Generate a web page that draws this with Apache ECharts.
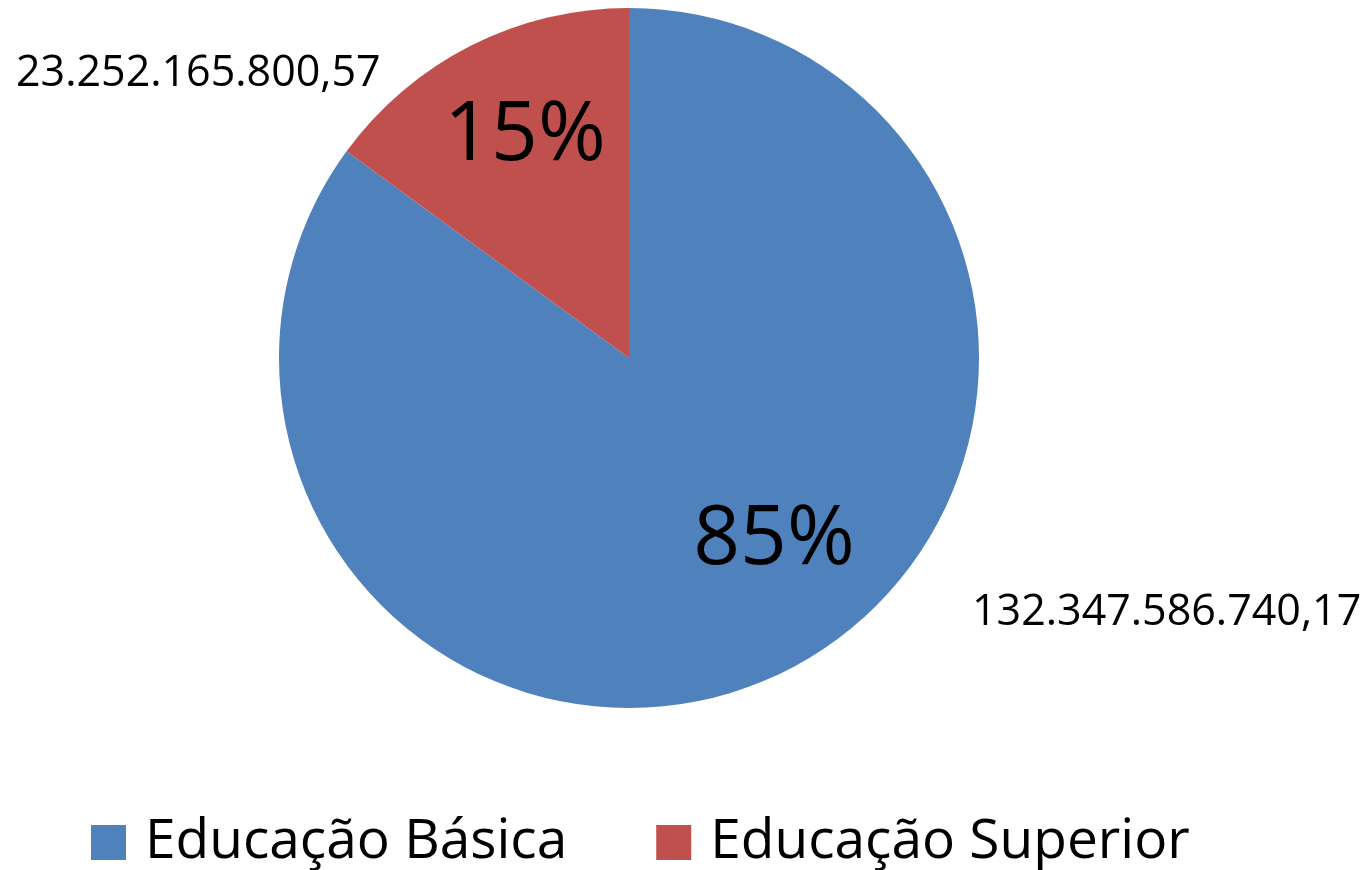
<!DOCTYPE html>
<html>
<head>
<meta charset="utf-8">
<script src="https://cdn.jsdelivr.net/npm/echarts@6/dist/echarts.min.js"></script>
<style>
html, body { margin: 0; padding: 0; background: #fff; }
#pieChart { width: 1364px; height: 870px; }
</style>
</head>
<body>
<div id="pieChart"></div>
<script>
// dados do gráfico
var categorias = ['Educação Básica', 'Educação Superior'];
var valores = [132347586740.17, 23252165800.57];
var cores = ['#4F81BD', '#C0504D'];

// posição dos rótulos (percentual e valor) por fatia
var posPercentual = [[774, 541], [525, 137]];
var posValor = [[972, 613], [16, 74]];

// formato brasileiro: 1.234.567,89
function formataBR(v) {
  var partes = v.toFixed(2).split('.');
  var inteiro = partes[0].replace(/\B(?=(\d{3})+(?!\d))/g, '.');
  return inteiro + ',' + partes[1];
}

var dados = categorias.map(function (nome, i) {
  return { name: nome, value: valores[i], itemStyle: { color: cores[i] } };
});

var myChart = echarts.init(document.getElementById('pieChart'));
var option = {
  animation: false,
  backgroundColor: '#fff',
  legend: {
    data: categorias,
    left: 91,
    top: 815,
    padding: 0,
    icon: 'rect',
    itemWidth: 35,
    itemHeight: 35,
    itemGap: 89,
    selectedMode: false,
    textStyle: {
      fontFamily: 'Open Sans',
      fontSize: 55,
      color: '#000',
      lineHeight: 50,
      padding: [0, 0, 0, 14]
    }
  },
  series: [
    {
      // fatias + percentuais
      name: 'percentual',
      type: 'pie',
      center: [629, 358],
      radius: 350,
      startAngle: 90,
      clockwise: true,
      percentPrecision: 0,
      silent: true,
      itemStyle: { borderWidth: 0 },
      label: {
        show: true,
        position: 'inside',
        formatter: '{d}%',
        fontFamily: 'Open Sans',
        fontSize: 82,
        color: '#000',
        textBorderWidth: 0
      },
      labelLine: { show: false },
      labelLayout: function (p) {
        var pos = posPercentual[p.dataIndex];
        return { x: pos[0], y: pos[1], align: 'center', verticalAlign: 'middle' };
      },
      data: dados
    },
    {
      // rótulos de valor (fora da pizza)
      name: 'valor',
      type: 'pie',
      center: [629, 358],
      radius: 350,
      startAngle: 90,
      clockwise: true,
      silent: true,
      itemStyle: { color: 'rgba(0,0,0,0)', borderWidth: 0 },
      label: {
        show: true,
        position: 'outside',
        formatter: function (p) { return formataBR(p.value); },
        fontFamily: 'Open Sans',
        fontSize: 43,
        color: '#000'
      },
      labelLine: { show: false },
      labelLayout: function (p) {
        var pos = posValor[p.dataIndex];
        return { x: pos[0], y: pos[1], align: 'left', verticalAlign: 'middle' };
      },
      data: categorias.map(function (nome, i) {
        return { name: nome, value: valores[i] };
      })
    }
  ]
};
myChart.setOption(option);
</script>
</body>
</html>
